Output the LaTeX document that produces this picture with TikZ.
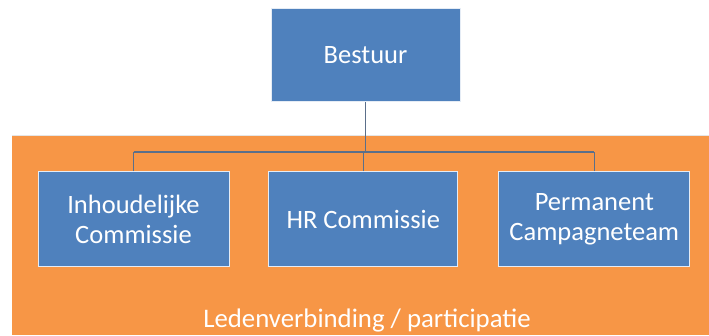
\documentclass[tikz,border=0pt]{standalone}
\usepackage{fontspec}
\setmainfont{Carlito}
\definecolor{boxblue}{HTML}{4F81BD}
\definecolor{bgorange}{HTML}{F79646}
\definecolor{linegray}{HTML}{5B6F8A}
\begin{document}
\begin{tikzpicture}[x=1pt,y=1pt,
  orgbox/.style={draw=white!85!boxblue, line width=1pt, fill=boxblue, inner sep=0pt,
    text=white, align=center, font=\fontsize{26.5}{29.5}\selectfont},
  conn/.style={draw=linegray, line width=1.3pt}]
\useasboundingbox (0,0) rectangle (709,336);
\fill[bgorange] (12,0.7) rectangle (712,200);
\draw[white!80!gray, line width=0.8pt] (12,200.4) -- (712,200.4);
\node[orgbox, minimum width=189pt, minimum height=93pt] (bestuur) at (365.5,280.5) {Bestuur};
\node[orgbox, minimum width=191pt, minimum height=95pt] (inh) at (133.5,116.5) {Inhoudelijke\\Commissie};
\node[orgbox, minimum width=189pt, minimum height=95pt] (hr) at (363.3,116.5) {HR Commissie};
\node[orgbox, minimum width=191pt, minimum height=95pt] (perm) at (594.3,116.5) {Permanent\\Campagneteam};
\coordinate (j) at (365.5,184);
\draw[conn] (bestuur.south) -- (bestuur.south |- j);
\draw[conn] (inh.north |- j) -- (perm.north |- j);
\draw[conn] (inh.north) -- (inh.north |- j);
\draw[conn] (hr.north) -- (hr.north |- j);
\draw[conn] (perm.north) -- (perm.north |- j);
\node[anchor=base, text=white, inner sep=0pt, font=\fontsize{26.8}{30}\selectfont] (ledenlabel) at (367,8) {Ledenverbinding / participatie};
\end{tikzpicture}
\end{document}
